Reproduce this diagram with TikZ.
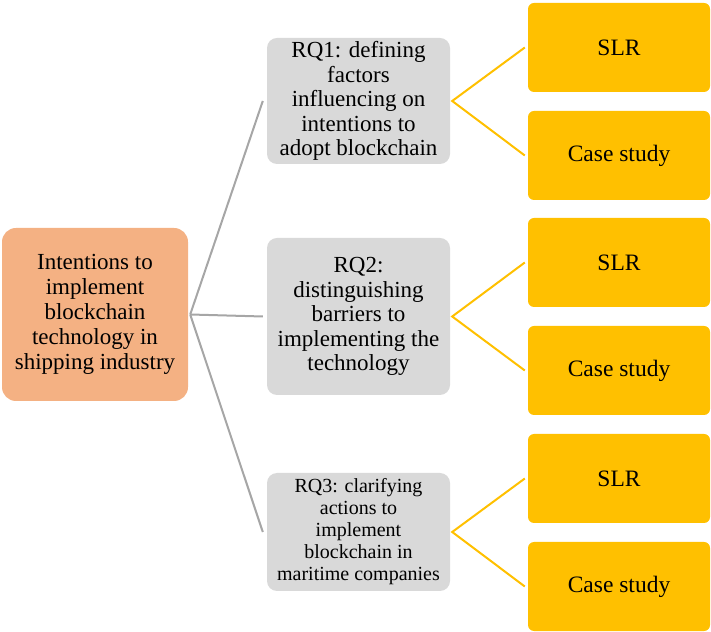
\documentclass[tikz,border=0pt]{standalone}
\usepackage{fontspec}
\setmainfont{Liberation Serif}
\newfontfamily\timesface{Liberation Serif}
\begin{document}
\begin{tikzpicture}[x=1pt,y=1pt,
  box/.style={rectangle, align=center, inner sep=0pt, text=black},
  rootbox/.style={box, fill=rootfill, rounded corners=14pt, minimum width=186pt, minimum height=173pt, font=\timesface\fontsize{23}{25}\selectfont},
  rqbox/.style={box, fill=rqfill, rounded corners=10pt, minimum width=183pt, font=\timesface\fontsize{23}{24.6}\selectfont},
  methodbox/.style={box, fill=methfill, rounded corners=6pt, minimum width=182pt, minimum height=89pt, font=\timesface\fontsize{23.5}{25}\selectfont},
  greyline/.style={draw=linegrey, line width=2pt},
  goldline/.style={draw=methfill, line width=2pt}]
\definecolor{rootfill}{HTML}{F4B183}
\definecolor{rqfill}{HTML}{D9D9D9}
\definecolor{methfill}{HTML}{FFC000}
\definecolor{linegrey}{HTML}{A6A6A6}
\useasboundingbox (0,0) rectangle (711,631);

% root
\node[rootbox] (root) at (95,316.5) {Intentions to\\implement\\blockchain\\technology in\\shipping industry};

% research questions
\node[rqbox, minimum height=126pt] (rq1) at (358.5,530) {RQ1: defining\\factors\\influencing on\\intentions to\\adopt blockchain};
\node[rqbox, minimum height=157pt] (rq2) at (358.5,314.5) {RQ2:\\distinguishing\\barriers to\\implementing the\\technology};
\node[rqbox, minimum height=118pt, font=\timesface\fontsize{20}{22}\selectfont] (rq3) at (358.5,99) {RQ3: clarifying\\actions to\\implement\\blockchain in\\maritime companies};

% methods
\node[methodbox] (slr1)  at (619,583.5) {SLR};
\node[methodbox] (case1) at (619,475.5) {Case study};
\node[methodbox] (slr2)  at (619,368.5) {SLR};
\node[methodbox] (case2) at (619,260.5) {Case study};
\node[methodbox] (slr3)  at (619,152.5) {SLR};
\node[methodbox] (case3) at (619,44.5)  {Case study};

% grey branches from the root
\coordinate (hub) at ([xshift=2pt]root.east);
\foreach \q in {rq1,rq2,rq3}
  \draw[greyline] (hub) -- ([xshift=-4pt]\q.west);

% gold branches from each question
\foreach \q/\a/\b in {rq1/slr1/case1, rq2/slr2/case2, rq3/slr3/case3}{
  \coordinate (\q hub) at ([xshift=2pt]\q.east);
  \draw[goldline] ([xshift=-3pt]\a.west) -- (\q hub) -- ([xshift=-3pt]\b.west);
}
\end{tikzpicture}
\end{document}
